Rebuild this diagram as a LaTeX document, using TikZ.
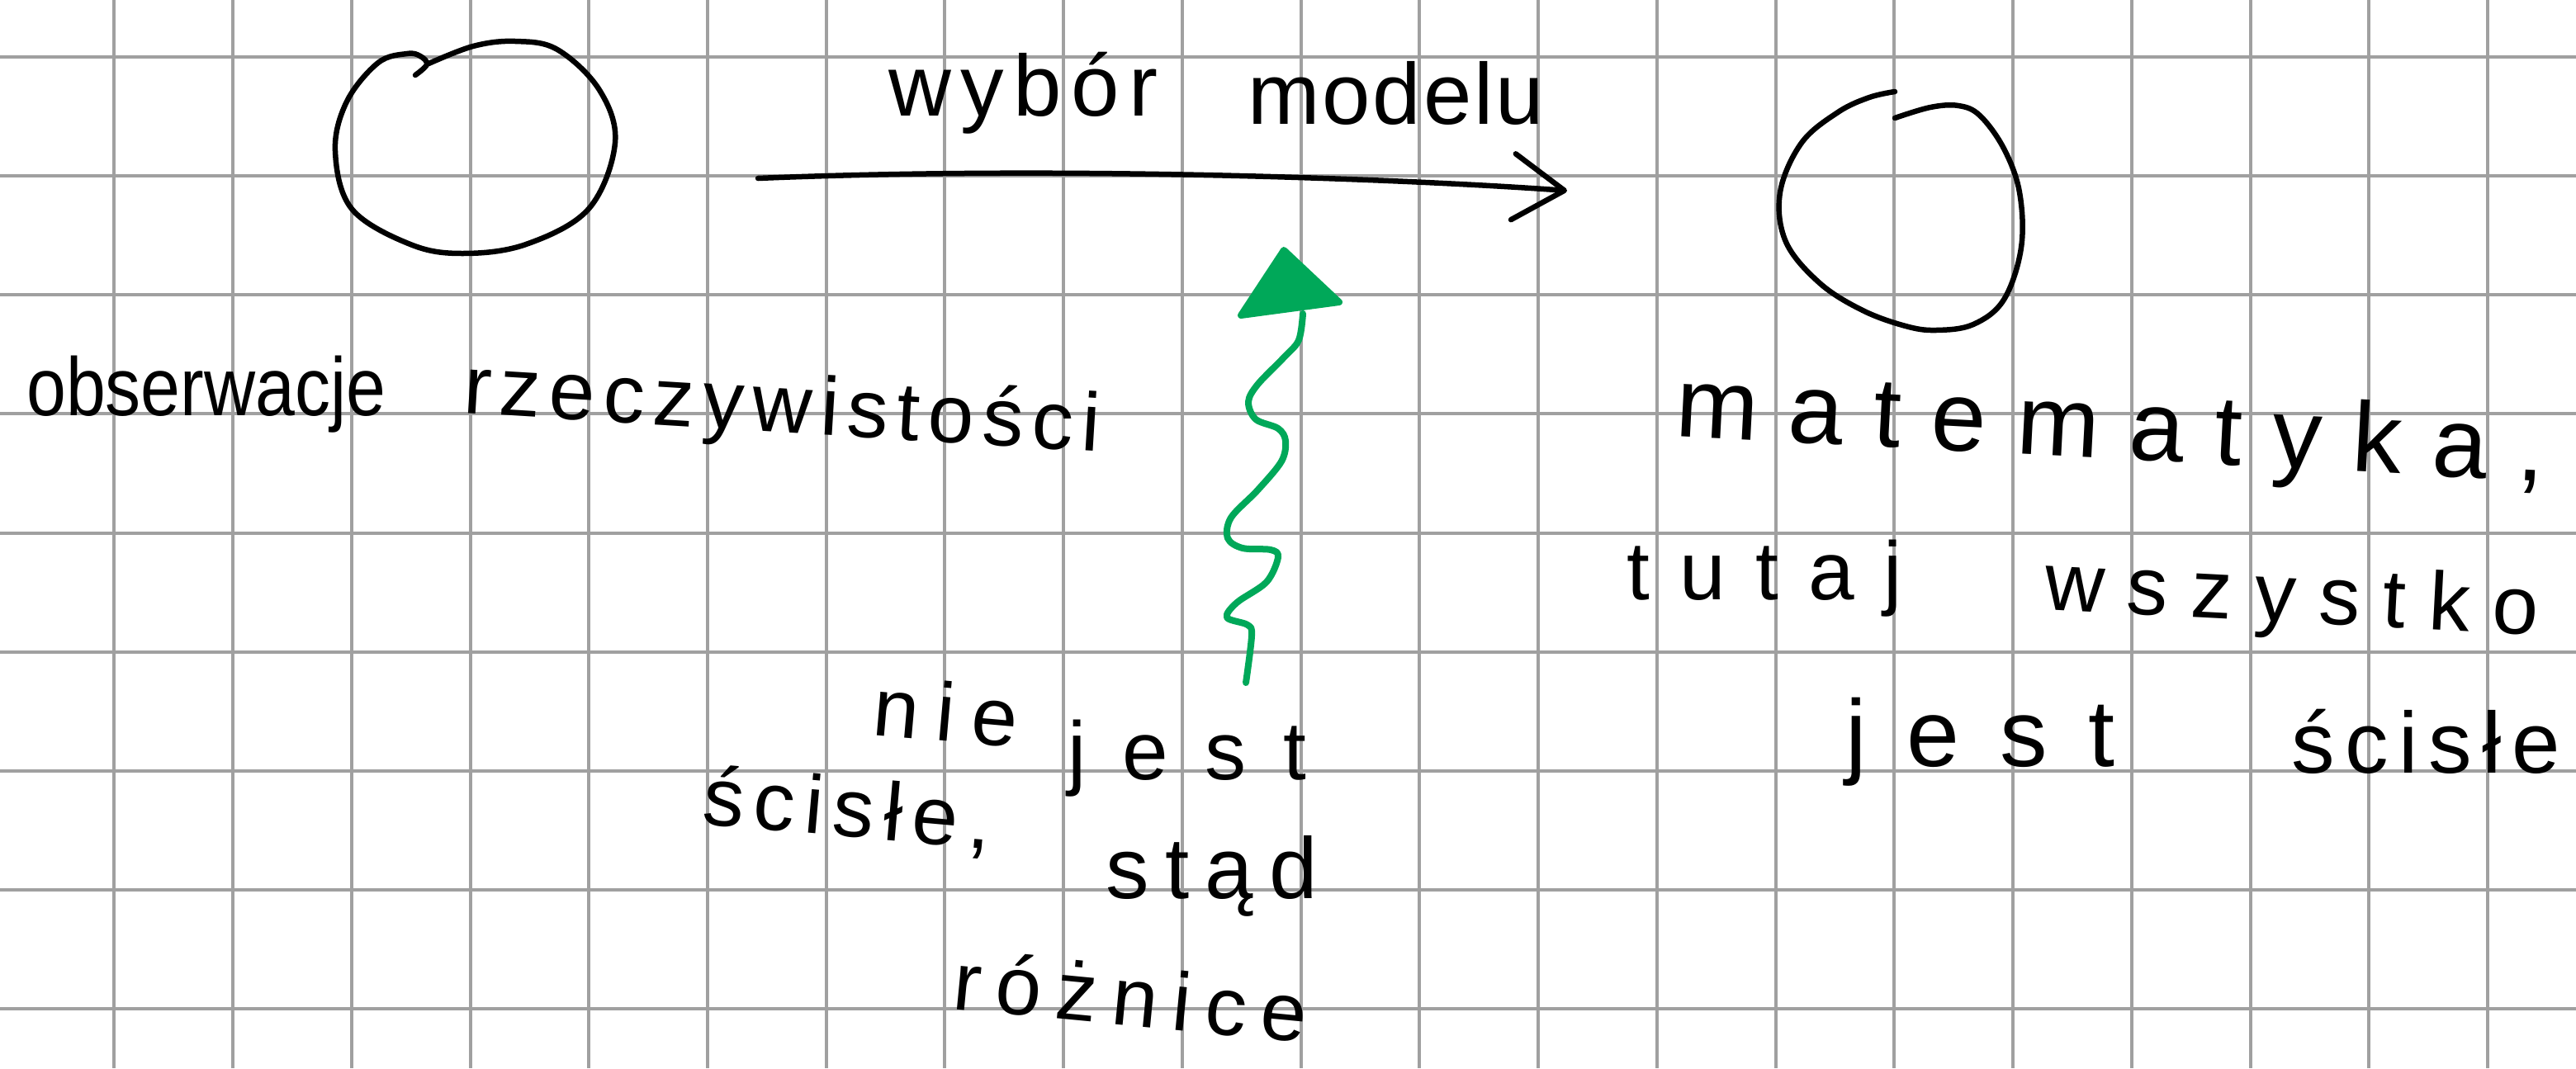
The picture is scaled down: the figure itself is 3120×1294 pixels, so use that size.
\documentclass[tikz,border=0pt]{standalone}
\usepackage{fontspec}
\setmainfont{Liberation Sans}
\usetikzlibrary{arrows.meta}

\definecolor{gridgray}{RGB}{160,160,160}
\definecolor{pengreen}{RGB}{0,168,89}

% font size given directly in pt (1pt = one unit of the picture)
\newcommand\hw[1]{\fontsize{#1pt}{#1pt}\selectfont}
% set a word in a box of the given width, spreading its letters apart
\makeatletter
\def\hw@ltrs#1{\ifx#1\relax\else#1\hfil\expandafter\hw@ltrs\fi}
\newcommand\spreadword[2]{\hbox to #1pt{\hw@ltrs#2\relax\unskip}}
\makeatother

\begin{document}
\begin{tikzpicture}[x=1pt,y=-1pt,
  pen/.style={draw=black, line width=6.5pt, line cap=round, line join=round},
  greenpen/.style={pen, draw=pengreen, line width=8pt},
  hand/.style={inner sep=0pt, anchor=base west, text=black},
  gridline/.style={draw=gridgray, line width=4pt}]

% paper and squared grid
\fill[white] (0,0) rectangle (3120,1294);
\useasboundingbox (0,0) rectangle (3120,1294);
\foreach \k in {0,...,20}
  \draw[gridline] ({138.3+143.74*\k},0) -- ({138.3+143.74*\k},1294);
\foreach \k in {0,...,8}
  \draw[gridline] (0,{69.3+144.05*\k}) -- (3120,{69.3+144.05*\k});

% left loop: observations of reality
\draw[pen] plot[smooth, tension=0.6] coordinates {(503,91) (517,78) (509,68) (493,65) (458,76) (420,123) (406,183) (426,253) (497,296) (560,307) (637,296) (713,253) (745,173) (726,109) (675,60) (624,50) (573,56) (517,78)};

% right loop: mathematics
\draw[pen] plot[smooth, tension=0.6] coordinates {(2295,111) (2264,118) (2226,136) (2182,173) (2156,233) (2163,293) (2204,343) (2256,376) (2308,395) (2345,400) (2390,393) (2427,363) (2448,300) (2446,233) (2427,180) (2398,140) (2372,128) (2338,130) (2295,143)};

% model choice arrow
\coordinate (arrS) at (918,216);
\coordinate (arrE) at (1898,231);
\draw[pen, -{Straight Barb[length=62pt, width=80pt, round]}]
  (arrS) .. controls (1300,200) and (1720,218) .. (arrE);

\node[hand, font=\hw{105}] (wybor) at (1076,140) {\spreadword{326}{wybór}};
\node[hand, font=\hw{105}] (modelu) at (1511,150) {\spreadword{359}{modelu}};

% left label
\node[hand, font=\hw{100}] (obs) at (32,503) {\scalebox{0.86}[1]{obserwacje}};
\node[hand, font=\hw{100}, rotate=-3.5] (rzecz) at (560,500) {\spreadword{772}{rzeczywistości}};

% right label
\node[hand, font=\hw{120}, rotate=-3] (mat) at (2028,528) {\spreadword{1054}{matematyka,}};
\node[hand, font=\hw{100}] (tutaj) at (1970,726) {\spreadword{334}{tutaj}};
\node[hand, font=\hw{100}, rotate=-3] (wszystko) at (2475,738) {\spreadword{599}{wszystko}};
\node[hand, font=\hw{115}] (jestR) at (2235,928) {\spreadword{326}{jest}};
\node[hand, font=\hw{105}] (scisleR) at (2775,936) {\spreadword{326}{ścisłe}};

% centre note
\node[hand, font=\hw{100}, rotate=-5] (nie) at (1055,890) {\spreadword{175}{nie}};
\node[hand, font=\hw{100}] (jestC) at (1293,944) {\spreadword{289}{jest}};
\node[hand, font=\hw{100}, rotate=-5] (scisleC) at (849,998) {\spreadword{350}{ścisłe,}};
\node[hand, font=\hw{105}] (stad) at (1339,1088) {\spreadword{257}{stąd}};
\node[hand, font=\hw{100}, rotate=-5.5] (roznice) at (1152,1222) {\spreadword{430}{różnice}};

% green wavy arrow from the note up to the model arrow
\coordinate (gBase) at (1509,827);
\coordinate (gTip) at (1555,303);
\draw[greenpen] plot[smooth, tension=0.55] coordinates {(gBase) (1516,770) (1511,757) (1486,748) (1498,730) (1534,705) (1548,675) (1539,666) (1505,664) (1487,652) (1491,627) (1523,594) (1552,559) (1557,534) (1548,519) (1521,508) (1512,487) (1523,466) (1555,433) (1573,412) (1578,380)};
\filldraw[fill=pengreen, draw=pengreen, line width=8pt, line join=round]
  (gTip) -- (1503,382) -- (1622,366) -- cycle;

\end{tikzpicture}
\end{document}
